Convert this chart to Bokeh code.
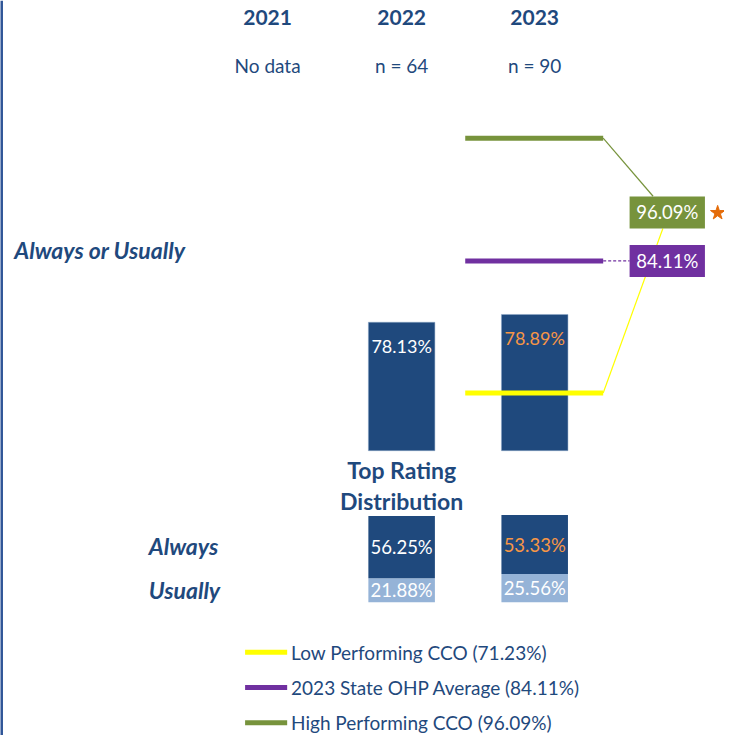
from bokeh.plotting import figure
from bokeh.models import Range1d
from bokeh.embed import file_html
from bokeh.resources import INLINE
from bokeh.core.properties import value

# ---------------- data ----------------
years = ["2021", "2022", "2023"]
n_labels = ["No data", "n = 64", "n = 90"]
bar_years = ["2022", "2023"]
always_or_usually = [78.13, 78.89]
always = [56.25, 53.33]
usually = [21.88, 25.56]
bench_names = ["Low Performing CCO", "2023 State OHP Average", "High Performing CCO"]
bench_values = [71.23, 84.11, 96.09]

# ---------------- style / layout ----------------
FONT = value("Lato")
NAVY = "#1F497D"
LIGHT = "#95B3D7"
ORANGE = "#F79646"
bench_colors = ["#FFFF00", "#7030A0", "#77933C"]
label_colors = ["white", ORANGE]      # 2023 highlighted in orange

W_REF, H_REF = 740, 751
YEAR_X = {"2021": 273, "2022": 410, "2023": 546}
PCT_TOP, PCT_BOT = 109.53, 37.80      # main percent scale
DIST_TOP, DIST_BOT = 544.2, -120.4    # distribution scale


def pct(ypx):
    return PCT_TOP - ypx * (PCT_TOP - PCT_BOT) / H_REF


p = figure(width=724, height=735, output_backend="svg", toolbar_location=None,
           x_range=Range1d(0, W_REF), y_range=Range1d(PCT_BOT, PCT_TOP),
           x_axis_location=None, y_axis_location=None, min_border=0)
p.extra_y_ranges = {"px": Range1d(H_REF, 0), "dist": Range1d(DIST_BOT, DIST_TOP)}
p.grid.visible = False
p.outline_line_color = None
p.background_fill_color = "white"
p.border_fill_color = "white"

# left border
p.segment(x0=[1], y0=[0], x1=[1], y1=[H_REF], y_range_name="px",
          line_color="#2F5597", line_width=3)

# header
p.text(x=[YEAR_X[y] for y in years], y=[17] * 3, text=years, y_range_name="px",
       text_font=FONT, text_font_size="21px", text_font_style="bold",
       text_color=NAVY, text_align="center", text_baseline="middle")
p.text(x=[YEAR_X[y] for y in years], y=[66] * 3, text=n_labels, y_range_name="px",
       text_font=FONT, text_font_size="19px",
       text_color=NAVY, text_align="center", text_baseline="middle")

# main bars
bx = [YEAR_X[y] for y in bar_years]
base = pct(460)
p.vbar(x=bx, top=always_or_usually, bottom=base, width=68,
       fill_color=NAVY, line_color="#8EA9C8", line_width=0.5)
p.text(x=bx, y=[v - 2.3 for v in always_or_usually],
       text=[f"{v:.2f}%" for v in always_or_usually], text_color=label_colors,
       text_font=FONT, text_font_size="18px", text_align="center", text_baseline="middle")

# connectors (behind boxes)
low, state, high = bench_values
p.segment(x0=[616], y0=[low], x1=[677], y1=[pct(233)], line_color="#FFFF00", line_width=1.2)
p.segment(x0=[616], y0=[high], x1=[667], y1=[pct(200)], line_color="#77933C", line_width=1.2)
p.segment(x0=[616], y0=[state], x1=[643], y1=[state], line_color="#7030A0",
          line_width=1.2, line_dash="3 2")

# benchmark lines
p.segment(x0=[475] * 3, y0=bench_values, x1=[616] * 3, y1=bench_values,
          line_color=bench_colors, line_width=5)

# value boxes
box_y = [pct(216.5), state]
box_vals = [high, state]
box_cols = ["#77933C", "#7030A0"]
p.rect(x=[681.5] * 2, y=box_y, width=77, height=32, height_units="screen",
       fill_color=box_cols, line_color=None)
p.text(x=[681.5] * 2, y=box_y, text=[f"{v:.2f}%" for v in box_vals], text_color="white",
       text_font=FONT, text_font_size="18.5px", text_align="center", text_baseline="middle")
p.scatter(x=[733], y=[pct(217)], marker="star", size=15,
          fill_color="#E46C0A", line_color="#E46C0A")

# row labels
p.text(x=[14], y=[255], text=["Always or Usually"], y_range_name="px",
       text_font=FONT, text_font_size="23px", text_font_style="bold italic",
       text_color=NAVY, text_align="left", text_baseline="middle")
p.text(x=[410, 410], y=[480, 511], text=["Top Rating", "Distribution"], y_range_name="px",
       text_font=FONT, text_font_size="23px", text_font_style="bold",
       text_color=NAVY, text_align="center", text_baseline="middle")
p.text(x=[187, 188], y=[557, 602], text=["Always", "Usually"], y_range_name="px",
       text_font=FONT, text_font_size="23px", text_font_style="bold italic",
       text_color=NAVY, text_align="center", text_baseline="middle")

# distribution stacked bars
p.vbar(x=bx, bottom=0, top=usually, width=68, y_range_name="dist",
       fill_color=LIGHT, line_color=None)
p.vbar(x=bx, bottom=usually, top=[u + a for u, a in zip(usually, always)], width=68,
       y_range_name="dist", fill_color=NAVY, line_color=None)
p.text(x=bx, y=[u + a / 2 for u, a in zip(usually, always)],
       text=[f"{v:.2f}%" for v in always], text_color=label_colors, y_range_name="dist",
       text_font=FONT, text_font_size="18.5px", text_align="center", text_baseline="middle")
p.text(x=bx, y=[u / 2 for u in usually],
       text=[f"{v:.2f}%" for v in usually], text_color="white", y_range_name="dist",
       text_font=FONT, text_font_size="18.5px", text_align="center", text_baseline="middle")

# legend
leg_y = [666, 702, 738]
p.segment(x0=[250] * 3, y0=leg_y, x1=[293] * 3, y1=leg_y, y_range_name="px",
          line_color=bench_colors, line_width=5)
p.text(x=[297] * 3, y=leg_y, y_range_name="px",
       text=[f"{n} ({v:.2f}%)" for n, v in zip(bench_names, bench_values)],
       text_font=FONT, text_font_size="19px", text_color=NAVY,
       text_align="left", text_baseline="middle")

open("out.html", "w").write(file_html(p, INLINE))
